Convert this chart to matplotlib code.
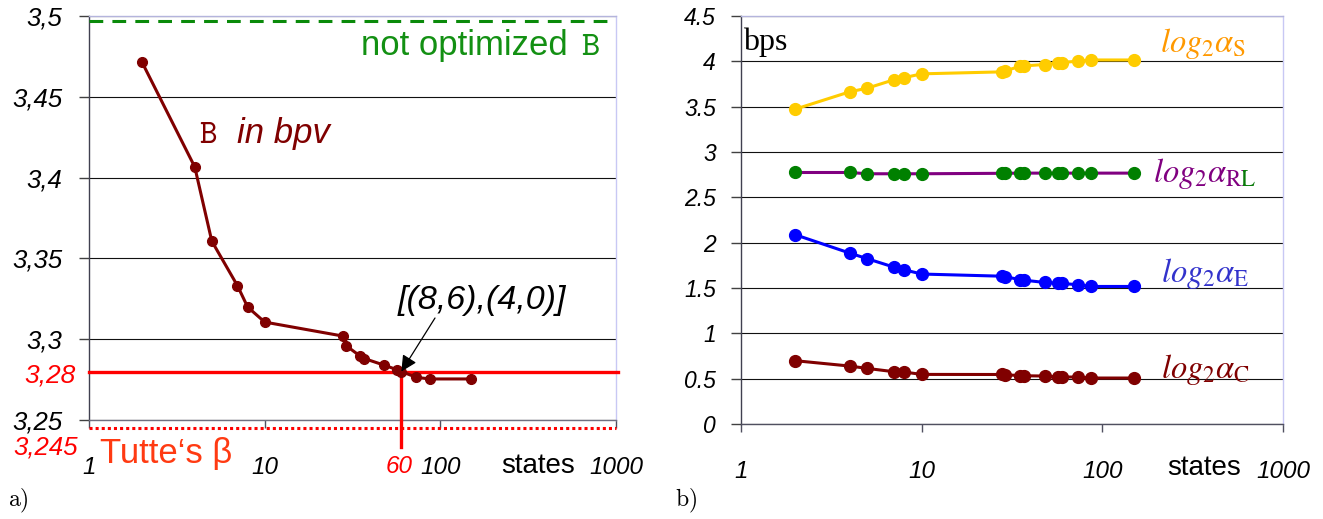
import matplotlib
matplotlib.use('Agg')
import matplotlib.pyplot as plt
import matplotlib.transforms as mtransforms
from matplotlib.transforms import Bbox
from matplotlib.ticker import NullLocator

W, H, DPI = 1323, 519, 100

# ---------------- data ----------------
states = [2, 4, 5, 7, 8, 10, 28, 29, 35, 37, 48, 57, 60, 73, 87, 150]
B_bpv = [3.4716, 3.4066, 3.3607, 3.3331, 3.3199, 3.3106, 3.3019, 3.2961,
         3.2895, 3.2880, 3.2839, 3.2810, 3.2800, 3.2764, 3.2754, 3.2754]
not_optimized_B = 3.497
optimum_B = 3.28
optimum_states = 60
tutte_beta = 3.245

log2_aS = [3.473, 3.664, 3.704, 3.796, 3.820, 3.862, 3.884, 3.895,
           3.945, 3.950, 3.965, 3.982, 3.987, 4.002, 4.015, 4.015]
log2_aRL = [2.774, 2.774, 2.760, 2.760, 2.760, 2.760, 2.765, 2.765,
            2.767, 2.767, 2.767, 2.767, 2.767, 2.767, 2.767, 2.767]
log2_aE = [2.087, 1.885, 1.823, 1.731, 1.701, 1.654, 1.630, 1.625,
           1.592, 1.586, 1.561, 1.553, 1.550, 1.536, 1.517, 1.517]
log2_aC = [0.698, 0.639, 0.613, 0.577, 0.573, 0.547, 0.546, 0.543,
           0.534, 0.532, 0.529, 0.520, 0.518, 0.518, 0.507, 0.507]

left_yticks = [3.25, 3.3, 3.35, 3.4, 3.45, 3.5]
left_ylabels = ['3,25', '3,3', '3,35', '3,4', '3,45', '3,5']
right_yticks = [0, 0.5, 1, 1.5, 2, 2.5, 3, 3.5, 4, 4.5]
right_ylabels = ['0', '0.5', '1', '1.5', '2', '2.5', '3', '3.5', '4', '4.5']
xticks = [1, 10, 100, 1000]
xlabels = ['1', '10', '100', '1000']

SANS = 'Liberation Sans'
plt.rcParams['font.family'] = SANS

fig = plt.figure(figsize=(W / DPI, H / DPI), dpi=DPI)
P = mtransforms.Affine2D().scale(1 / W, -1 / H).translate(0, 1) + fig.transFigure


def rect(l, t, r, b):
    return [l / W, 1 - b / H, (r - l) / W, (b - t) / H]


def style_axes(ax, ylim, yticks, ylabels, yfs, ptop, spine_left, spine_bottom):
    ax.set_xscale('log')
    ax.set_xlim(1, 1000)
    ax.set_ylim(*ylim)
    ax.xaxis.set_minor_locator(NullLocator())
    ax.set_xticks(xticks)
    ax.set_xticklabels(xlabels, fontstyle='italic', fontsize=17.5)
    ax.set_yticks(yticks)
    ax.set_yticklabels(ylabels, fontstyle='italic', fontsize=yfs)
    ax.yaxis.grid(True, color='#111111', lw=0.8)
    ax.xaxis.grid(False)
    ax.set_axisbelow(True)
    ax.spines['top'].set_color('#b4b4dc')
    ax.spines['right'].set_color('#c8c8f4')
    ax.spines['left'].set_color(spine_left)
    ax.spines['bottom'].set_color(spine_bottom)
    for s in ax.spines.values():
        s.set_linewidth(1.0)
    ax.tick_params(axis='y', direction='out', length=7, width=1, color='#404040', pad=ptop)
    ax.tick_params(axis='x', direction='out', length=6, width=1, color='#505060', pad=20)


# ---------------- left panel ----------------
axL = fig.add_axes(rect(89, 16, 616, 420))
style_axes(axL, (3.25, 3.5), left_yticks, left_ylabels, 18.5, 12, '#404050', '#707080')

axL.plot(states, B_bpv, color='#800000', lw=2.2, marker='o', ms=7, zorder=5)
axL.axhline(not_optimized_B, color='#0a8a0a', lw=2.2, ls=(0, (4.5, 3)), zorder=3)
axL.axhline(optimum_B, xmin=0, xmax=1.004, color='#ff0000', lw=2.4, clip_on=False, zorder=4)
axL.axhline(tutte_beta, color='#ff0000', lw=2.2, ls=(0, (1, 1)), clip_on=False, zorder=4)
axL.plot([optimum_states, optimum_states], [optimum_B, 3.2333], color='#ff0000',
         lw=2.4, clip_on=False, zorder=4)
axL.annotate('', xy=(optimum_states, optimum_B), xycoords='data',
             xytext=(435, 318), textcoords=P,
             arrowprops=dict(arrowstyle='-|>', color='k', lw=0.9,
                             mutation_scale=24, shrinkA=0, shrinkB=0), zorder=6)

fig.text(361, 55, 'not optimized', transform=P, color='#139013', fontsize=25, va='baseline')
fig.text(581, 55, r'$\mathtt{B}$', transform=P, color='#139013', fontsize=25, va='baseline',
         math_fontfamily='cm')
fig.text(199, 143, r'$\mathtt{B}$', transform=P, color='#800000', fontsize=24, va='baseline',
         math_fontfamily='cm')
fig.text(237, 143, 'in bpv', transform=P, color='#800000', fontsize=25, va='baseline',
         fontstyle='italic')
fig.text(398, 309, '[(8,6),(4,0)]', transform=P, color='k', fontsize=24.5, va='baseline',
         fontstyle='italic')
fig.text(76, 382, '3,28', transform=P, color='#ff0000', fontsize=19, va='baseline',
         ha='right', fontstyle='italic')
fig.text(78, 454, '3,245', transform=P, color='#ff0000', fontsize=18.5, va='baseline',
         ha='right', fontstyle='italic')
fig.text(100, 463, 'Tutte\u2018s \u03b2', transform=P, color='#ff3a12', fontsize=25,
         va='baseline')
fig.text(399, 473, '60', transform=P, color='#ff0000', fontsize=17.5, va='baseline',
         ha='center', fontstyle='italic')
fig.text(538, 473, 'states', transform=P, color='k', fontsize=20, va='baseline', ha='center')
fig.text(18, 506, r'$\mathrm{a)}$', transform=P, color='k', fontsize=17, va='baseline',
         ha='center', math_fontfamily='cm')

# ---------------- right panel ----------------
axR = fig.add_axes(rect(741, 16, 1283, 424))
style_axes(axR, (0, 4.5), right_yticks, right_ylabels, 16.5, 11, '#404050', '#505060')

axR.plot(states, log2_aS, color='#ffcc00', lw=2.2, marker='o', ms=8.5, zorder=5)
axR.plot(states, log2_aRL, color='#800080', lw=2.2, marker='o', ms=8.5,
         mfc='#008000', mec='#008000', zorder=5)
axR.plot(states, log2_aE, color='#0000ff', lw=2.2, marker='o', ms=8.5, zorder=5)
axR.plot(states, log2_aC, color='#800000', lw=2.2, marker='o', ms=8.5, zorder=5)

fig.text(743, 50, 'bps', transform=P, color='k', fontsize=23, va='baseline',
         family='Liberation Serif')

LFS = 23.5
fig.text(1160, 52, r'$log_2\alpha_{\mathrm{S}}$', transform=P, color='#ff9900', fontsize=LFS,
         va='baseline', math_fontfamily='stix')
fig.text(1161, 282, r'$log_2\alpha_{\mathrm{E}}$', transform=P, color='#3333cc', fontsize=LFS,
         va='baseline', math_fontfamily='stix')
fig.text(1161, 378, r'$log_2\alpha_{\mathrm{C}}$', transform=P, color='#800000', fontsize=LFS,
         va='baseline', math_fontfamily='stix')

# two-coloured RL label
renderer = fig.canvas.get_renderer()
pref = fig.text(1153, 182, r'$log_2\alpha_{\mathrm{R}}$', transform=P, color='#800080',
                fontsize=LFS, va='baseline', math_fontfamily='stix')
xr = pref.get_window_extent(renderer).x1
pref.remove()
t_purple = fig.text(1153, 182, r'$log_2\alpha_{\mathrm{RL}}$', transform=P, color='#800080',
                    fontsize=LFS, va='baseline', math_fontfamily='stix')
t_purple.set_clip_box(Bbox([[0, 0], [xr, H]]))
t_purple.set_clip_on(True)
t_green = fig.text(1153, 182, r'$log_2\alpha_{\mathrm{RL}}$', transform=P, color='#0a7a0a',
                   fontsize=LFS, va='baseline', math_fontfamily='stix')
t_green.set_clip_box(Bbox([[xr, 0], [W, H]]))
t_green.set_clip_on(True)

fig.text(1204, 475, 'states', transform=P, color='k', fontsize=20, va='baseline', ha='center')
fig.text(686, 506, r'$\mathrm{b)}$', transform=P, color='k', fontsize=17, va='baseline',
         ha='center', math_fontfamily='cm')

fig.savefig('out.png', dpi=DPI)
